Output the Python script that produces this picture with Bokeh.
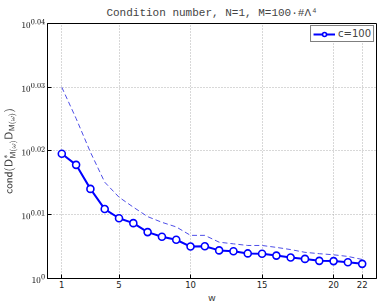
from bokeh.plotting import figure
from bokeh.models import FixedTicker, Range1d
from bokeh.embed import file_html
from bokeh.resources import INLINE

w = list(range(1, 23))
cond_c100 = [1.0461, 1.0419, 1.0329, 1.0254, 1.0220, 1.0202, 1.0169, 1.0152, 1.0141, 1.0116, 1.0117,
             1.0102, 1.0099, 1.0091, 1.0090, 1.0083, 1.0076, 1.0071, 1.0064, 1.0063, 1.0059, 1.0053]
cond_bound = [1.0715, 1.0595, 1.0467, 1.0354, 1.0298, 1.0261, 1.0226, 1.0205, 1.0188, 1.0157, 1.0157,
              1.0132, 1.0126, 1.0120, 1.0120, 1.0113, 1.0105, 1.0095, 1.0090, 1.0086, 1.0080, 1.0069]
x_ticks = [1, 5, 10, 15, 20, 22]
y_tick_exponents = ["0", "0.01", "0.02", "0.03", "0.04"]
y_tick_values = [1.0, 1.023293, 1.047129, 1.071519, 1.096478]

p = figure(width=379, height=305, output_backend="svg", toolbar_location=None,
           y_axis_type="log", title="Condition number, N=1, M=100·#Λ⁴")
p.x_range = Range1d(0, 23)
p.y_range = Range1d(1.0, 1.096478)
p.min_border_left = 0
p.min_border_right = 3
p.min_border_top = 0
p.min_border_bottom = 0

p.title.text_font = "Liberation Mono"
p.title.text_font_size = "11px"
p.title.text_font_style = "normal"
p.title.align = "center"
p.title.offset = 0
p.title.standoff = 9

p.line(w, cond_bound, line_color="#4f4fe8", line_width=1, line_dash="5 3")
p.line(w, cond_c100, line_color="#0000ff", line_width=2, legend_label="c=100")
p.scatter(w, cond_c100, marker="circle", size=7, line_color="#0000ff", line_width=1.6,
          fill_color="white", legend_label="c=100")

p.xaxis.ticker = FixedTicker(ticks=x_ticks)
p.yaxis.ticker = FixedTicker(ticks=y_tick_values)
p.yaxis.major_label_overrides = {v: "$$10^{" + e + "}$$" for v, e in zip(y_tick_values, y_tick_exponents)}
p.xaxis.axis_label = "w"
p.yaxis.axis_label = r"$$\mathsf{cond}(\mathsf{D}^{*}_{\mathsf{M}(\omega)}\mathsf{D}_{\mathsf{M}(\omega)})$$"

for ax in (p.xaxis, p.yaxis):
    ax.major_label_text_font = "DejaVu Sans"
    ax.major_label_text_color = "#222222"
    ax.axis_label_text_font = "DejaVu Sans"
    ax.axis_label_text_font_style = "normal"
    ax.axis_label_standoff = 1
    ax.major_tick_in = 4
    ax.major_tick_out = 0
    ax.minor_tick_in = 0
    ax.minor_tick_out = 0
    ax.axis_line_color = "black"
    ax.major_tick_line_color = "black"
    ax.major_label_standoff = 2

p.xaxis.major_label_text_font_size = "8.5px"
p.xaxis.axis_label_text_font_size = "9.5px"
p.yaxis.major_label_text_font_size = "7px"
p.yaxis.axis_label_text_font_size = "8.5px"

p.outline_line_color = "black"
p.outline_line_width = 1
p.xgrid.ticker = FixedTicker(ticks=x_ticks)
p.ygrid.ticker = FixedTicker(ticks=y_tick_values)
p.grid.grid_line_color = "#b0b0b0"
p.grid.grid_line_dash = "1 2"
p.grid.grid_line_width = 1

p.legend.location = "top_right"
p.legend.border_line_color = "black"
p.legend.border_line_width = 1
p.legend.margin = 2
p.legend.padding = 2
p.legend.spacing = 0
p.legend.glyph_width = 22
p.legend.glyph_height = 10
p.legend.label_text_font = "DejaVu Sans"
p.legend.label_text_font_size = "10px"
p.legend.label_standoff = 3
p.legend.background_fill_alpha = 1

open("out.html", "w").write(file_html(p, INLINE))
